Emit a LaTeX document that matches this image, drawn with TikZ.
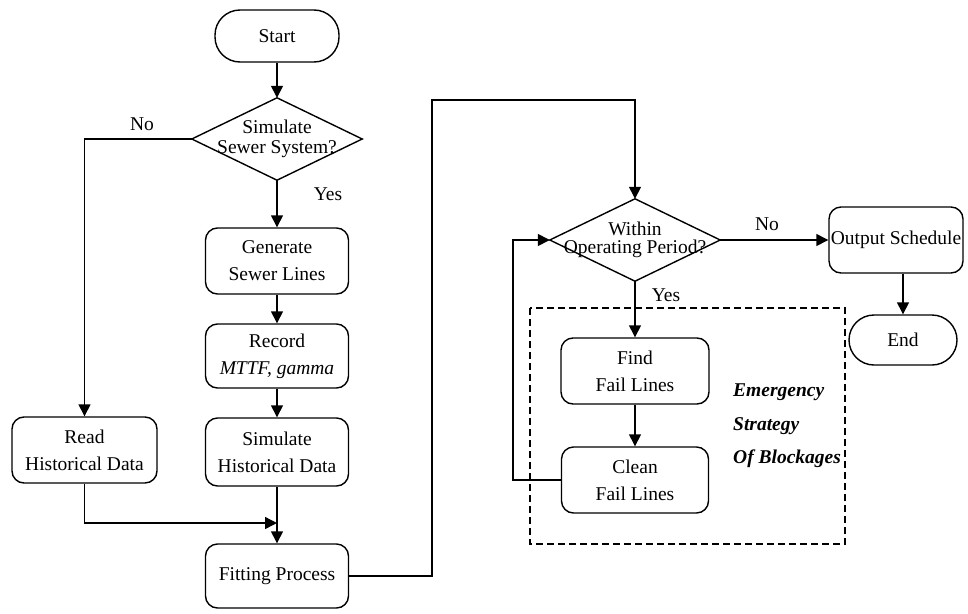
\documentclass[tikz,border=0pt]{standalone}
\usepackage{fontspec}
\setmainfont{Liberation Serif}
\usetikzlibrary{arrows.meta}
\begin{document}
\begin{tikzpicture}[x=1pt,y=-1pt,
  every node/.style={font=\fontsize{19.5}{27}\selectfont},
  box/.style={draw, line width=1.4pt, rounded corners=12pt, align=center, inner sep=0pt},
  term/.style={draw, line width=1.4pt, rounded corners=25pt, align=center, inner sep=0pt},
  dia/.style={align=center, inner sep=0pt},
  conn/.style={line width=1.4pt, -{Triangle[length=12pt,width=12pt]}},
  plain/.style={line width=1.4pt},
  emph/.style={inner sep=0pt, anchor=west, font=\fontsize{19.5}{22}\selectfont\bfseries\itshape},
  lbl/.style={inner sep=0pt}]
\useasboundingbox (0,0) rectangle (968,613);
\node[term, minimum width=124pt, minimum height=52pt] (start) at (277,36) {Start};
\node[dia, minimum width=170pt, minimum height=82pt] (d1) at (277,139) {Simulate\\[-7pt]Sewer System?};
\draw[plain] (d1.north) -- (d1.east) -- (d1.south) -- (d1.west) -- cycle;
\node[box, minimum width=143pt, minimum height=66pt] (gen) at (277,261) {Generate\\Sewer Lines};
\node[box, minimum width=143pt, minimum height=64pt] (rec) at (277,356) {Record\\\textit{MTTF, gamma}};
\node[box, minimum width=143pt, minimum height=68pt] (sim) at (277,452) {Simulate\\Historical Data};
\node[box, minimum width=145pt, minimum height=66pt] (read) at (84.5,450) {Read\\Historical Data};
\node[box, minimum width=143pt, minimum height=64pt] (fit) at (277,576) {Fitting Process};
\node[dia, minimum width=170pt, minimum height=82pt] (d2) at (635,240) {Within\\[-9pt]Operating Period?};
\draw[plain] (d2.north) -- (d2.east) -- (d2.south) -- (d2.west) -- cycle;
\node[box, minimum width=134pt, minimum height=66pt] (out) at (896,240) {Output Schedule};
\node[term, minimum width=108pt, minimum height=50pt] (end) at (903,340) {End};
\node[box, minimum width=148pt, minimum height=66pt] (find) at (635,371) {Find\\Fail Lines};
\node[box, minimum width=147pt, minimum height=66pt] (clean) at (635,480) {Clean\\Fail Lines};
\draw[line width=1.2pt, dash pattern=on 7pt off 4pt] (530,308) rectangle (845,544);
\node[emph] (em1) at (733,392) {Emergency};
\node[emph] (em2) at (733,426) {Strategy};
\node[emph] (em3) at (733,459) {Of Blockages};
\node[lbl] (no1) at (142,124) {No};
\node[lbl] (yes1) at (328,194) {Yes};
\node[lbl] (no2) at (767,224) {No};
\node[lbl] (yes2) at (666,295) {Yes};
\coordinate (rj) at (277,523);
\draw[conn] (start) -- (d1.north);
\draw[conn] (d1.south) -- (gen);
\draw[conn] (gen) -- (rec);
\draw[conn] (rec) -- (sim);
\draw[conn] (sim) -- (fit);
\draw[conn] (d1.west) -| (read.north);
\draw[conn] (read.south) |- (rj);
\draw[conn] (fit.east) -- (432,576) -- (432,100) -| (d2.north);
\draw[conn] (d2.east) -- (out.west);
\draw[conn] (out.south -| end.north) -- (end.north);
\draw[conn] (d2.south) -- (find);
\draw[conn] (find) -- (clean);
\draw[conn] (clean.west) -- (513,480) |- (d2.west);
\end{tikzpicture}
\end{document}
